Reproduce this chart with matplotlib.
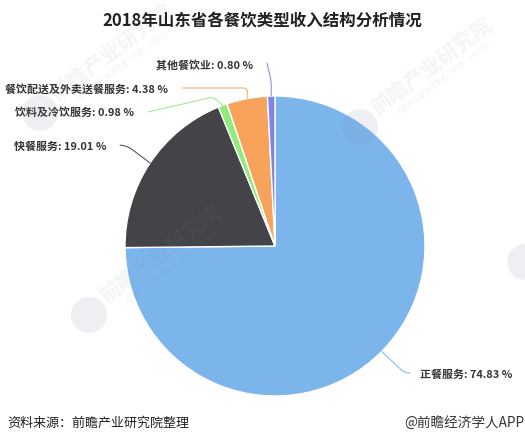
# 2018 Shandong catering revenue structure pie chart
import numpy as np
import matplotlib
matplotlib.use('Agg')
import matplotlib.pyplot as plt
from matplotlib.patches import Circle

plt.rcParams['font.family'] = ['Noto Sans CJK SC', 'DejaVu Sans']

# data
names = ['正餐服务', '快餐服务', '饮料及冷饮服务', '餐饮配送及外卖送餐服务', '其他餐饮业']
values = [74.83, 19.01, 0.98, 4.38, 0.80]
colors = ['#7cb5ec', '#434348', '#90ed7d', '#f7a35c', '#8085e9']

W, H = 525, 444

# label left edge / centre line, far end of each leader line and its two angles
label_pos = [(420, 375), (14, 147), (15, 113), (5, 89), (156, 65)]
leader_end = [(410, 373), (120, 145), (148, 112), (182, 88), (267, 63)]
leader_angles = [(0, -43), (-10, -37), (13, -42), (0, 85), (103, 90)]

# watermark logo centres
logo_pos = [(40, 113), (360, 127), (89, 315), (525, 262)]

fig = plt.figure(figsize=(W / 100, H / 100), dpi=100)
ax = fig.add_axes([0, 0, 1, 1])

cx, cy, radius = 275, H - 246, 150

wedges, _ = ax.pie(values, colors=colors, startangle=90, counterclock=False,
                   center=(cx, cy), radius=radius,
                   wedgeprops={'edgecolor': 'white', 'linewidth': 1})

ax.set_xlim(0, W)
ax.set_ylim(0, H)
ax.set_aspect('equal')
ax.axis('off')

# leader lines and labels
for i, w in enumerate(wedges):
    mid = np.deg2rad((w.theta1 + w.theta2) / 2)
    start = (cx + radius * np.cos(mid), cy + radius * np.sin(mid))
    end = (leader_end[i][0], H - leader_end[i][1])
    style = 'angle,angleA=%s,angleB=%s,rad=5' % leader_angles[i]
    ax.annotate('', xy=start, xytext=end,
                arrowprops=dict(arrowstyle='-', color=colors[i], lw=0.7,
                                shrinkA=0, shrinkB=0, connectionstyle=style))
    ax.text(label_pos[i][0], H - label_pos[i][1],
            '%s: %.2f %%' % (names[i], values[i]),
            fontsize=7.9, fontweight='bold', color='#333333', va='center', ha='left')

# title and footer
ax.text(262, H - 22, '2018年山东省各餐饮类型收入结构分析情况', fontsize=11.9,
        fontweight='bold', color='#222222', ha='center', va='center')
ax.text(7, H - 423, '资料来源：前瞻产业研究院整理', fontsize=9.4, color='#222222',
        ha='left', va='center')
ax.text(524, H - 423, '@前瞻经济学人APP', fontsize=9.8, color='#333333',
        ha='right', va='center')

# watermarks
wm_angle = 37
ca, sa = np.cos(np.deg2rad(wm_angle)), np.sin(np.deg2rad(wm_angle))
for x, y in logo_pos:
    ax.add_patch(Circle((x, H - y), 18, color='#7f8aa8', alpha=0.13, lw=0, zorder=10))
    if x > 500:
        continue
    ax.text(x + 84 * ca + 4, H - y + 84 * sa + 10, '前瞻产业研究院', fontsize=15,
            fontweight='bold', color='#7f8aa8', alpha=0.09, rotation=wm_angle,
            ha='center', va='center', zorder=10)
    ax.text(x + 92 * ca + 12, H - y + 92 * sa - 6, '中国产业咨询领导者（股票：833393）', fontsize=5,
            color='#7f8aa8', alpha=0.1, rotation=wm_angle,
            ha='center', va='center', zorder=10)

fig.savefig('out.png', dpi=100)
